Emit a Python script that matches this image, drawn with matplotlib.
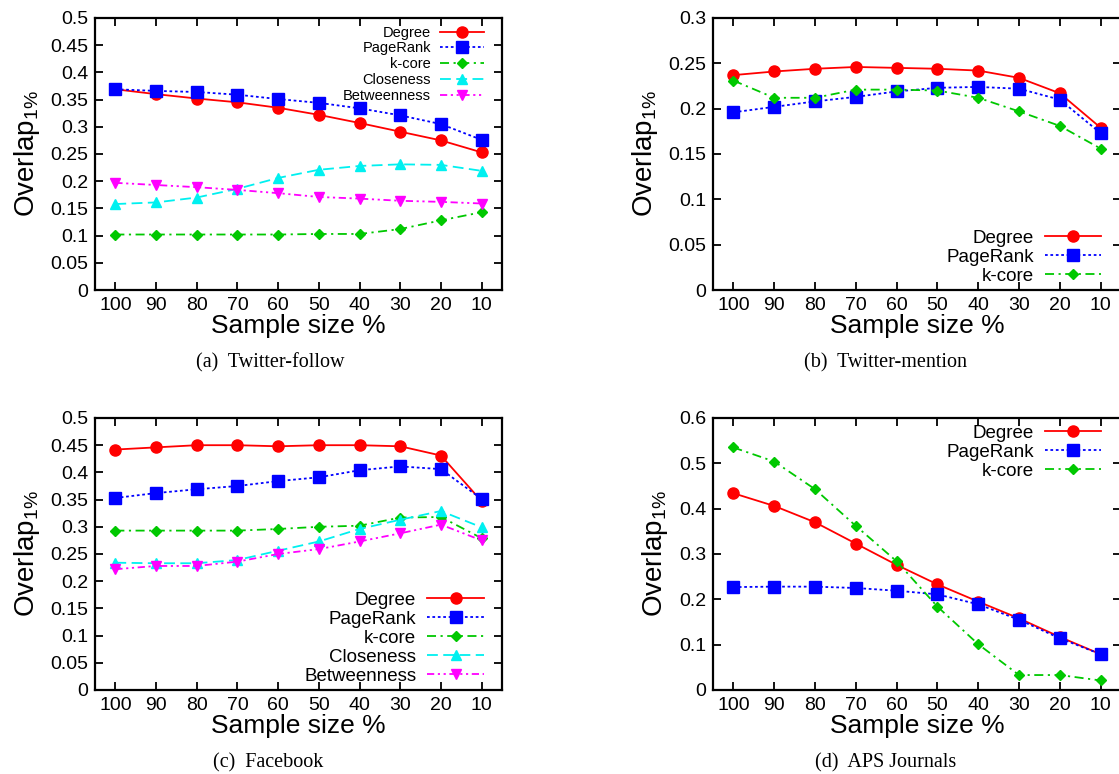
import numpy as np
import matplotlib.pyplot as plt
from matplotlib.ticker import FuncFormatter

plt.rcParams['font.family'] = ['Liberation Sans', 'DejaVu Sans']
plt.rcParams['mathtext.fontset'] = 'custom'
plt.rcParams['mathtext.rm'] = 'Liberation Sans'
plt.rcParams['mathtext.it'] = 'Liberation Sans'

sample = [100, 90, 80, 70, 60, 50, 40, 30, 20, 10]

# (a) Twitter-follow
a_degree = [0.369, 0.360, 0.352, 0.345, 0.335, 0.322, 0.307, 0.291, 0.275, 0.253]
a_pagerank = [0.369, 0.366, 0.364, 0.359, 0.351, 0.344, 0.334, 0.321, 0.305, 0.276]
a_kcore = [0.102, 0.102, 0.102, 0.102, 0.102, 0.103, 0.103, 0.112, 0.128, 0.143]
a_closeness = [0.158, 0.161, 0.170, 0.186, 0.206, 0.221, 0.228, 0.231, 0.230, 0.219]
a_betweenness = [0.197, 0.193, 0.189, 0.184, 0.178, 0.171, 0.168, 0.164, 0.162, 0.159]

# (b) Twitter-mention
b_degree = [0.237, 0.241, 0.244, 0.246, 0.245, 0.244, 0.242, 0.234, 0.217, 0.179]
b_pagerank = [0.196, 0.202, 0.208, 0.213, 0.219, 0.223, 0.224, 0.222, 0.210, 0.173]
b_kcore = [0.231, 0.212, 0.212, 0.221, 0.221, 0.220, 0.212, 0.197, 0.181, 0.156]

# (c) Facebook
c_degree = [0.442, 0.446, 0.450, 0.450, 0.448, 0.450, 0.450, 0.448, 0.431, 0.347]
c_pagerank = [0.353, 0.362, 0.369, 0.375, 0.384, 0.391, 0.404, 0.411, 0.406, 0.351]
c_kcore = [0.293, 0.293, 0.293, 0.293, 0.296, 0.300, 0.302, 0.317, 0.318, 0.279]
c_closeness = [0.234, 0.233, 0.233, 0.239, 0.256, 0.273, 0.296, 0.313, 0.329, 0.299]
c_betweenness = [0.222, 0.228, 0.228, 0.236, 0.250, 0.259, 0.273, 0.288, 0.304, 0.275]

# (d) APS Journals
d_degree = [0.434, 0.406, 0.370, 0.323, 0.276, 0.233, 0.195, 0.158, 0.117, 0.079]
d_pagerank = [0.227, 0.228, 0.228, 0.225, 0.219, 0.211, 0.189, 0.155, 0.114, 0.079]
d_kcore = [0.535, 0.504, 0.443, 0.362, 0.284, 0.184, 0.101, 0.033, 0.033, 0.021]

styles = {
    'Degree': dict(color='#ff0000', ls='-', marker='o', ms=8),
    'PageRank': dict(color='#0000ff', ls=(0, (1.5, 1.5)), marker='s', ms=8),
    'k-core': dict(color='#00c800', ls=(0, (5, 2.5, 1.2, 2.5)), marker='D', ms=5.5),
    'Closeness': dict(color='#00f0f0', ls=(0, (6, 3)), marker='^', ms=7.5),
    'Betweenness': dict(color='#ff00ff', ls=(0, (4, 2, 1.2, 2, 1.2, 2)), marker='v', ms=7.5),
}

W, H = 1119, 774
fig = plt.figure(figsize=(W / 100, H / 100), dpi=100)

def make_ax(x0, y0, x1, y1):
    return fig.add_axes([x0 / W, 1 - y1 / H, (x1 - x0) / W, (y1 - y0) / H])

def panel(ax, series, ymax, ystep, legfs, legloc, legpos, legsp):
    for name, vals in series:
        ax.plot(sample, vals, lw=1.3, label=name, **styles[name])
    ax.set_xlim(105, 5)
    ax.set_ylim(0, ymax)
    ax.set_xticks(sample)
    ax.set_yticks(np.round(np.arange(0, ymax + 1e-9, ystep), 3))
    ax.yaxis.set_major_formatter(FuncFormatter(lambda v, p: '%g' % v))
    ax.tick_params(direction='in', length=6, width=1.3, labelsize=14,
                   top=True, right=True, pad=5)
    for s in ax.spines.values():
        s.set_linewidth(1.6)
    ax.set_xlabel('Sample size %', fontsize=19, labelpad=0)
    ax.set_ylabel(r'Overlap$_{\mathrm{1\%}}$', fontsize=20, labelpad=6)
    ax.legend(loc=legloc, bbox_to_anchor=legpos, frameon=False, markerfirst=False,
              fontsize=legfs, handlelength=3.0, handletextpad=0.6,
              labelspacing=legsp, borderpad=0, borderaxespad=0)

ax_a = make_ax(95, 18, 502, 290)
panel(ax_a, [('Degree', a_degree), ('PageRank', a_pagerank), ('k-core', a_kcore),
             ('Closeness', a_closeness), ('Betweenness', a_betweenness)],
      0.5, 0.05, 10.5, 'upper right', (0.955, 0.972), 0.12)

ax_b = make_ax(713, 18, 1121, 290)
panel(ax_b, [('Degree', b_degree), ('PageRank', b_pagerank), ('k-core', b_kcore)],
      0.3, 0.05, 13.5, 'lower right', (0.952, 0.02), 0.1)

ax_c = make_ax(95, 418, 502, 690)
panel(ax_c, [('Degree', c_degree), ('PageRank', c_pagerank), ('k-core', c_kcore),
             ('Closeness', c_closeness), ('Betweenness', c_betweenness)],
      0.5, 0.05, 13.5, 'lower right', (0.955, 0.02), 0.1)

ax_d = make_ax(713, 418, 1121, 690)
panel(ax_d, [('Degree', d_degree), ('PageRank', d_pagerank), ('k-core', d_kcore)],
      0.6, 0.1, 13.5, 'upper right', (0.952, 0.975), 0.1)

cap = dict(fontsize=14.5, family=['Liberation Serif', 'DejaVu Serif'], ha='center', va='center')
fig.text(270 / W, 1 - 363 / H, '(a)  Twitter-follow', **cap)
fig.text(886 / W, 1 - 363 / H, '(b)  Twitter-mention', **cap)
fig.text(268 / W, 1 - 763 / H, '(c)  Facebook', **cap)
fig.text(886 / W, 1 - 763 / H, '(d)  APS Journals', **cap)

fig.savefig('out.png', dpi=100)
